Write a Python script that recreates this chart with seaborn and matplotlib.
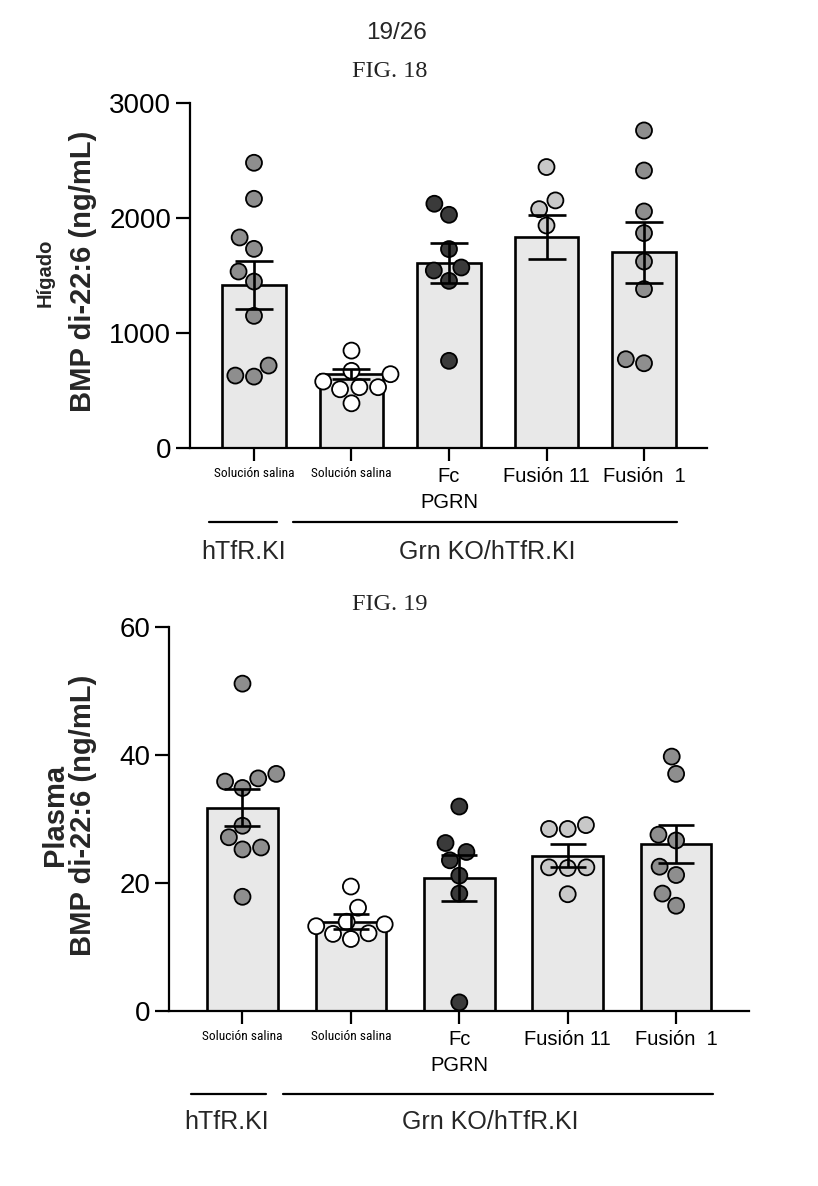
import matplotlib

matplotlib.use("Agg")
import matplotlib.pyplot as plt
import numpy as np
import pandas as pd
import seaborn as sns
from matplotlib import font_manager
from matplotlib.lines import Line2D

# grupos (claves unicas) y etiquetas del eje x
GRUPOS = ["hTfR salina", "KO salina", "Fc PGRN", "Fusion 11", "Fusion 1"]
ETIQUETAS = ["Solución salina", "Solución salina", "Fc\nPGRN", "Fusión 11", "Fusión  1"]
COLORES = ["#8e8e8e", "#ffffff", "#3a3a3a", "#c8c8c8", "#8e8e8e"]

# FIG. 18 - higado
HIGADO_MEDIA = [1417, 643, 1611, 1832, 1701]
HIGADO_SEM = [209, 45, 174, 194, 265]
HIGADO_PUNTOS = [
    [2478, 2165, 1829, 1730, 1533, 1446, 1148, 716, 620, 629],
    [846, 641, 670, 577, 528, 510, 528, 388],
    [2122, 2026, 1728, 1568, 1542, 1452, 757],
    [2441, 2075, 2151, 1933],
    [2759, 2411, 2055, 1867, 1620, 1380, 736, 771],
]

# FIG. 19 - plasma
PLASMA_MEDIA = [31.7, 13.9, 20.8, 24.2, 26.1]
PLASMA_SEM = [2.9, 1.2, 3.6, 1.8, 2.95]
PLASMA_PUNTOS = [
    [51.1, 36.3, 37.0, 34.8, 35.8, 28.9, 27.1, 25.5, 25.2, 17.8],
    [19.4, 16.1, 13.5, 13.2, 13.9, 12.1, 12.0, 11.2],
    [31.9, 26.2, 24.8, 23.5, 21.1, 18.3, 1.3],
    [28.4, 29.0, 28.4, 22.4, 22.3, 22.4, 18.2],
    [39.7, 37.0, 26.6, 27.5, 21.2, 22.5, 18.3, 16.4],
]

FUENTE = ["Liberation Sans", "DejaVu Sans"]


def fuente_estrecha():
    # busca una familia condensada instalada; si no hay, letra normal mas chica
    instaladas = {(f.name, f.stretch) for f in font_manager.fontManager.ttflist}
    nombres = {n for n, _ in instaladas}
    for nombre in ["Liberation Sans Narrow", "Roboto Condensed", "Open Sans Condensed",
                   "Noto Sans Condensed", "DejaVu Sans Condensed"]:
        if nombre in nombres:
            return {"family": [nombre, "DejaVu Sans"], "stretch": "normal", "size": 9.6}
    for nombre, ancho in instaladas:
        if nombre in ("Roboto", "Noto Sans", "Open Sans", "DejaVu Sans") and ancho in (
            "condensed", "semi-condensed", "extra-condensed", 75, 62, 87
        ):
            return {"family": [nombre, "DejaVu Sans"], "stretch": ancho, "size": 9.4}
    return {"family": FUENTE, "stretch": "normal", "size": 8.6}


ESTRECHA = fuente_estrecha()


def tabla_puntos(puntos):
    filas = []
    for grupo, valores in zip(GRUPOS, puntos):
        for v in valores:
            filas.append({"grupo": grupo, "valor": v})
    return pd.DataFrame(filas)


def dibujar_panel(ax, medias, sems, puntos, ymax, yticks, xlim, capsize):
    sns.barplot(
        x=GRUPOS, y=medias, order=GRUPOS, color="#e8e8e8", edgecolor="black",
        linewidth=1.9, width=0.65, errorbar=None, ax=ax, zorder=1,
    )
    df = tabla_puntos(puntos)
    sns.swarmplot(
        data=df, x="grupo", y="valor", hue="grupo", order=GRUPOS,
        palette=dict(zip(GRUPOS, COLORES)), size=11.5, edgecolor="black",
        linewidth=1.3, legend=False, ax=ax, zorder=3, warn_thresh=1,
    )
    for coll in ax.collections:
        coll.set_clip_on(False)
    ax.errorbar(
        np.arange(len(GRUPOS)), medias, yerr=sems, fmt="none", ecolor="black",
        elinewidth=1.9, capsize=capsize, capthick=1.9, zorder=5,
    )
    ax.set_ylim(0, ymax)
    ax.set_yticks(yticks)
    ax.set_xlim(*xlim)
    ax.set_xticks(np.arange(len(GRUPOS)))
    ax.set_xticklabels(ETIQUETAS)
    ax.set_xlabel("")
    ax.set_ylabel("")
    sns.despine(ax=ax)
    for lado in ["left", "bottom"]:
        ax.spines[lado].set_linewidth(1.6)
        ax.spines[lado].set_color("black")
    ax.tick_params(axis="y", length=10, width=1.6, pad=3.5, labelsize=20, colors="black")
    ax.tick_params(axis="x", length=9, width=1.6, pad=5, colors="black")
    for i, lbl in enumerate(ax.get_xticklabels()):
        if i < 2:
            lbl.set_fontfamily(ESTRECHA["family"])
            lbl.set_fontstretch(ESTRECHA["stretch"])
            lbl.set_fontsize(ESTRECHA["size"])
        else:
            lbl.set_fontsize(14.5)
            lbl.set_linespacing(1.45)


sns.set_theme(style="ticks")
plt.rcParams["font.family"] = FUENTE

fig = plt.figure(figsize=(8.18, 11.86), dpi=100)
fig.patch.set_facecolor("white")

ax1 = fig.add_axes([0.2323, 0.6223, 0.632, 0.2911])
dibujar_panel(ax1, HIGADO_MEDIA, HIGADO_SEM, HIGADO_PUNTOS, 3000,
              [0, 1000, 2000, 3000], (-0.656, 4.646), 13.5)

ax2 = fig.add_axes([0.2066, 0.1478, 0.709, 0.3238])
dibujar_panel(ax2, PLASMA_MEDIA, PLASMA_SEM, PLASMA_PUNTOS, 60,
              [0, 20, 40, 60], (-0.678, 4.672), 12.8)

# encabezados
fig.text(0.4853, 0.9722, "19/26", ha="center", va="center", fontsize=17.5)
fig.text(0.4768, 0.9393, "FIG. 18", ha="center", va="center", fontsize=17.5,
         family="Liberation Serif", color="#222222")
fig.text(0.4768, 0.4899, "FIG. 19", ha="center", va="center", fontsize=17.5,
         family="Liberation Serif", color="#222222")

# titulos de eje y
fig.text(0.1015, 0.7715, "BMP di-22:6 (ng/mL)", rotation=90, ha="center", va="center",
         fontsize=21, fontweight="bold")
fig.text(0.055, 0.7698, "Hígado", rotation=90, ha="center", va="center",
         fontsize=14.5, fontweight="bold")
fig.text(0.1015, 0.3128, "BMP di-22:6 (ng/mL)", rotation=90, ha="center", va="center",
         fontsize=21, fontweight="bold")
fig.text(0.0672, 0.3128, "Plasma", rotation=90, ha="center", va="center",
         fontsize=21, fontweight="bold")

# lineas de grupo
for y, tramos in [
    (0.5599, [(0.2555, 0.3386), (0.3582, 0.8276)]),
    (0.0776, [(0.2335, 0.3252), (0.3460, 0.8711)]),
]:
    for x0, x1 in tramos:
        fig.add_artist(Line2D([x0, x1], [y, y], color="black", linewidth=1.6))

for y, xa, xb in [(0.5346, 0.2978, 0.5960), (0.0540, 0.2769, 0.5998)]:
    fig.text(xa, y, "hTfR.KI", ha="center", va="center", fontsize=18)
    fig.text(xb, y, "Grn KO/hTfR.KI", ha="center", va="center", fontsize=18)

fig.savefig("out.png", dpi=100, facecolor="white")
